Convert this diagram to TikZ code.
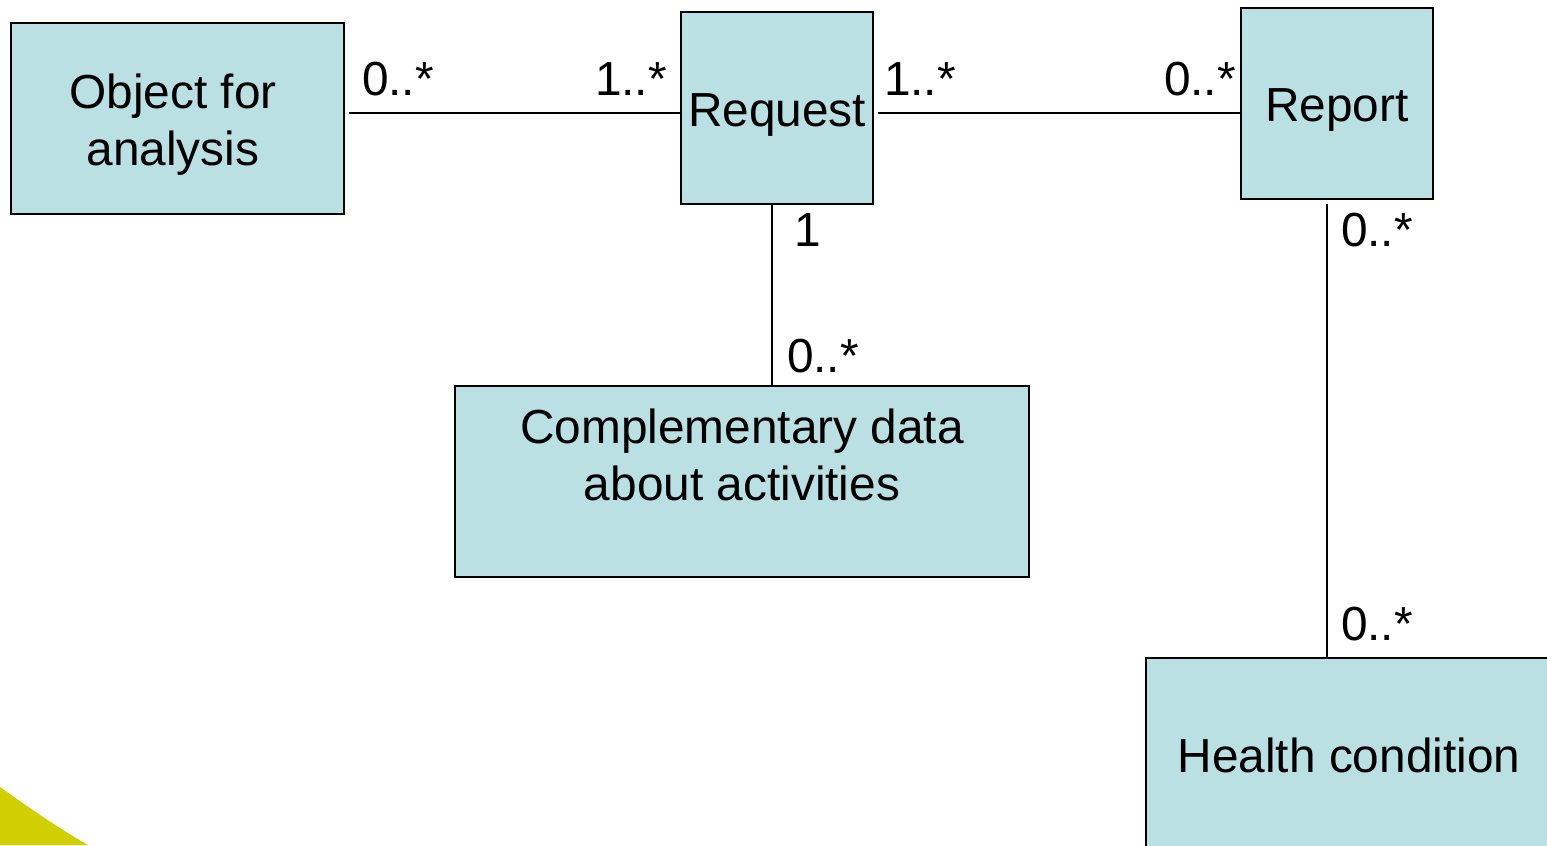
\documentclass[tikz,border=0pt]{standalone}
\usepackage{fontspec}
\setmainfont{Liberation Sans}
\usetikzlibrary{calc}
\definecolor{boxfill}{RGB}{186,224,227}
\definecolor{accent}{RGB}{210,207,0}
\tikzset{
  umlbox/.style={draw=black, fill=boxfill, line width=1.1pt, inner sep=0pt, outer sep=0pt,
    font=\fontsize{27.2}{32.4}\selectfont, text height=0.74cm, text depth=0pt},
  txt/.style={inner sep=0pt, outer sep=0pt, font=\fontsize{27.2}{32.4}\selectfont, align=center},
  mult/.style={inner sep=0pt, outer sep=0pt, anchor=base west, font=\fontsize{27.2}{32.4}\selectfont},
  conn/.style={draw=black, line width=1pt}
}
\begin{document}
\begin{tikzpicture}[x=0.02cm, y=-0.02cm]
\useasboundingbox (0,0) rectangle (1547,845);
\clip (0,0) rectangle (1547,845);
\fill[white] (0,0) rectangle (1547,845);
% accent shape bottom-left
\fill[accent] (0,787) .. controls (35,812) and (65,832) .. (88,845) -- (0,845) -- cycle;
% boxes
\node[umlbox, minimum width=6.66cm, minimum height=3.82cm] (obj) at (177.5,118.5) {};
\node[txt, anchor=north] (objtext) at (173,74) {Object for\\analysis};
\node[umlbox, minimum width=3.84cm, minimum height=3.84cm] (req) at (777,108) {Request};
\node[umlbox, minimum width=3.84cm, minimum height=3.82cm] (rep) at (1337,103.5) {Report};
\node[umlbox, minimum width=11.48cm, minimum height=3.82cm] (compl) at (742,481.5) {};
\node[txt, anchor=north] (compltext) at (742,409) {Complementary data\\about activities};
\node[umlbox, minimum width=8.12cm, minimum height=3.84cm] (health) at (1349,754) {Health condition};
% connectors
\draw[conn] ($(obj.east |- req.west)+(5,5)$) -- ($(req.west)+(0,5)$);
\draw[conn] ($(req.east)+(5,5)$) -- ($(req.east -| rep.west)+(0,5)$);
\draw[conn] ($(req.south)+(-5,0)$) -- ($(req.south |- compl.north)+(-5,0)$);
\draw[conn] ($(rep.south)+(-10,5)$) -- ($(rep.south |- health.north)+(-10,0)$);
% multiplicities
\node[mult] (m1) at (362,95) {0..*};
\node[mult] (m2) at (595,95) {1..*};
\node[mult] (m3) at (884,95) {1..*};
\node[mult] (m4) at (1164,95) {0..*};
\node[mult] (m5) at (794,246) {1};
\node[mult] (m6) at (787,372) {0..*};
\node[mult] (m7) at (1341,246) {0..*};
\node[mult] (m8) at (1341,640) {0..*};
\end{tikzpicture}
\end{document}
